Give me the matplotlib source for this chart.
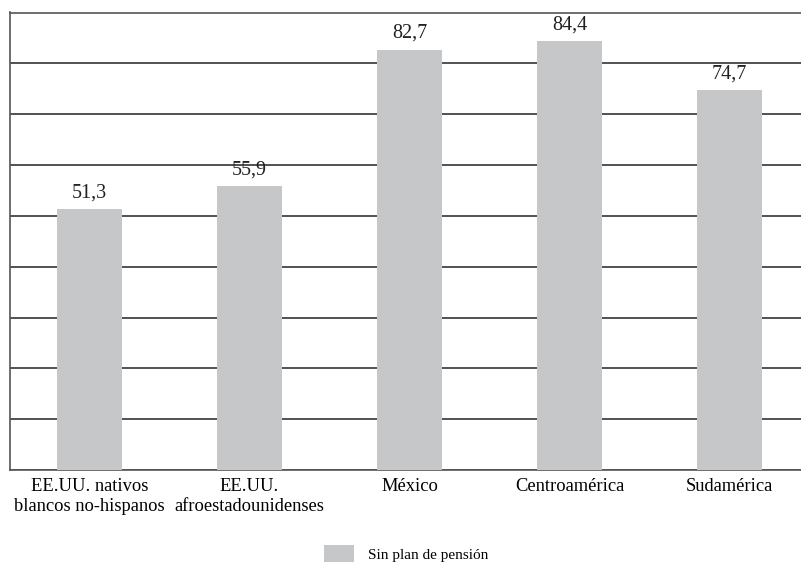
import matplotlib
matplotlib.use("Agg")
import matplotlib.pyplot as plt
from matplotlib.patches import Patch

categorias = ["EE.UU. nativos\nblancos no-hispanos", "EE.UU.\nafroestadounidenses",
              "México", "Centroamérica", "Sudamérica"]
sin_plan = [51.3, 55.9, 82.7, 84.4, 74.7]
etiquetas = ["51,3", "55,9", "82,7", "84,4", "74,7"]

plt.rcParams['font.family'] = ['Liberation Serif', 'DejaVu Serif']

fig = plt.figure(figsize=(8.01, 5.63), dpi=100)
W, H = 801, 563
# ejes: izquierda 9.5px, base 470px, arriba 12.5px, se salen por la derecha
ax = fig.add_axes([9.5 / W, 1 - 470 / H, 800 / W, (470 - 12.5) / H])

color_barra = '#c6c7c9'
x = range(len(categorias))
bars = ax.bar(x, sin_plan, width=0.406, color=color_barra, zorder=3)

for b, txt in zip(bars, etiquetas):
    ax.text(b.get_x() + b.get_width() / 2, b.get_height() + 1.3, txt,
            ha='center', va='bottom', fontsize=14.5, color='#222222')

ax.set_xlim(-0.5, 4.5)
ax.set_ylim(0, 90)
ax.set_yticks(range(0, 91, 10))
ax.set_yticklabels([])
ax.tick_params(axis='y', length=0)
ax.grid(axis='y', color='#222222', linewidth=1.1, zorder=0)

ax.set_xticks(list(x))
ax.set_xticklabels(categorias, fontsize=13.3, linespacing=1.2)
ax.tick_params(axis='x', length=0, pad=6)

ax.spines['right'].set_visible(False)
for s in ['left', 'bottom', 'top']:
    ax.spines[s].set_color('#555555')
    ax.spines[s].set_linewidth(1.2)

handle = Patch(facecolor=color_barra, edgecolor='none')
fig.legend([handle], ["Sin plan de pensión"], loc='lower center',
           bbox_to_anchor=(0.507, -0.022), frameon=False, fontsize=11,
           handlelength=1.95, handleheight=1.25, handletextpad=0.9)

fig.savefig("out.png", dpi=100)
